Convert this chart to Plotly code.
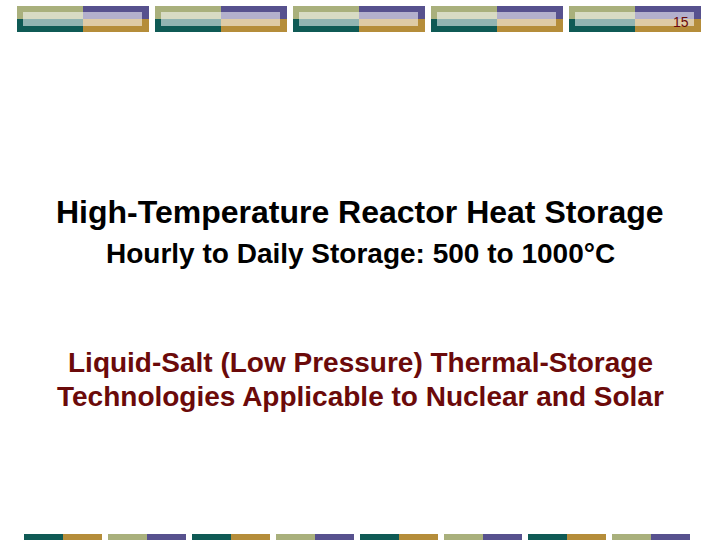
import plotly.graph_objects as go

# slide text
page_number = "15"
title_lines = ["High-Temperature Reactor Heat Storage",
               "Hourly to Daily Storage: 500 to 1000°C"]
red_lines = ["Liquid-Salt (Low Pressure) Thermal-Storage",
             "Technologies Applicable to Nuclear and Solar"]

# decoration palette
olive, purple, teal, gold = "#A9B07C", "#57518E", "#0F5A55", "#B58D3A"
dark_red = "#6B0A0A"

fig = go.Figure()
shapes = []

# top banner: five four-colour blocks with a pale strip over them
for i in range(5):
    x0 = 17 + 138 * i
    xm, x1 = x0 + 66, x0 + 132
    for (a, b, c, d, col) in [(x0, xm, 6, 19, olive), (xm, x1, 6, 19, purple),
                              (x0, xm, 19, 32, teal), (xm, x1, 19, 32, gold)]:
        shapes.append(dict(type="rect", x0=a, x1=b, y0=c, y1=d,
                           fillcolor=col, line_width=0, layer="below"))
    shapes.append(dict(type="rect", x0=x0 + 6, x1=x1 - 7, y0=12, y1=26,
                       fillcolor="rgba(255,255,255,0.55)", line_width=0, layer="below"))

# bottom strip
for i in range(8):
    x0 = 24 + 84 * i
    left, right = (teal, gold) if i % 2 == 0 else (olive, purple)
    shapes.append(dict(type="rect", x0=x0, x1=x0 + 39, y0=534, y1=541,
                       fillcolor=left, line_width=0))
    shapes.append(dict(type="rect", x0=x0 + 39, x1=x0 + 78, y0=534, y1=541,
                       fillcolor=right, line_width=0))

font = "Liberation Sans, Arial, sans-serif"
ann = [
    dict(x=681, y=22, text=page_number, font=dict(size=14, color=dark_red, family=font)),
    dict(x=360, y=212, text="<b>" + title_lines[0] + "</b>", font=dict(size=32, color="black", family=font)),
    dict(x=360, y=253, text="<b>" + title_lines[1] + "</b>", font=dict(size=28, color="black", family=font)),
    dict(x=360, y=362, text="<b>" + red_lines[0] + "</b>", font=dict(size=28, color=dark_red, family=font)),
    dict(x=360, y=396, text="<b>" + red_lines[1] + "</b>", font=dict(size=28, color=dark_red, family=font)),
]
for a in ann:
    a.update(xref="x", yref="y", showarrow=False, xanchor="center", yanchor="middle")

fig.update_layout(
    width=720, height=540,
    margin=dict(l=0, r=0, t=0, b=0),
    paper_bgcolor="white", plot_bgcolor="white",
    xaxis=dict(range=[0, 720], visible=False, fixedrange=True),
    yaxis=dict(range=[540, 0], visible=False, fixedrange=True),
    shapes=shapes, annotations=ann, showlegend=False,
)

fig.write_html("out.html", config={"displayModeBar": False},
               post_script="document.body.style.margin='0';")
